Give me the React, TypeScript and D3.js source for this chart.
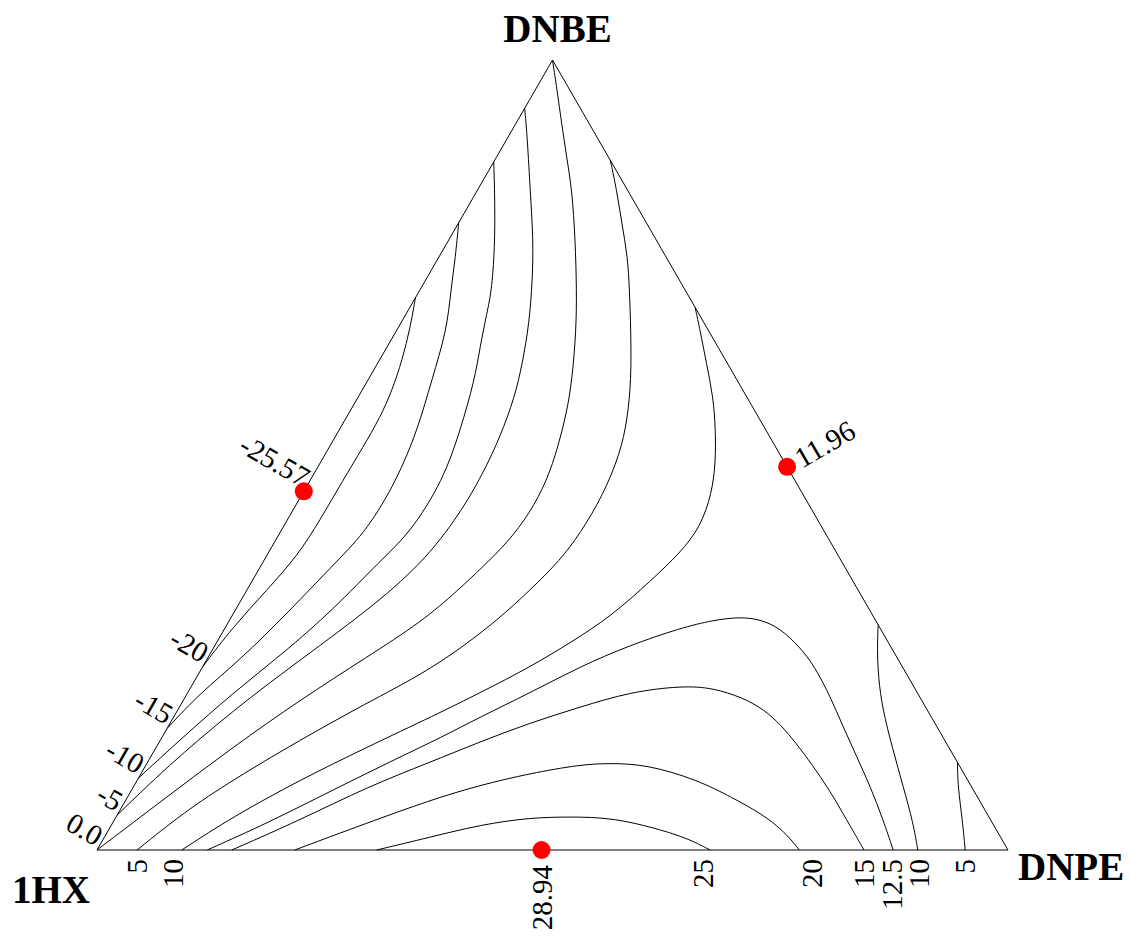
import React from 'react';
import * as d3 from 'd3';

// Ternary points: [DNPE fraction, DNBE fraction]; 1HX = 1 - both
type TP = [number, number];

const vertexNames = { left: '1HX', right: 'DNPE', top: 'DNBE' };

const cNeg20: TP[] = [[0, 0.699], [0.013, 0.662], [0.025, 0.62], [0.033, 0.582], [0.037, 0.548], [0.037, 0.51], [0.036, 0.468], [0.036, 0.418], [0.034, 0.373], [0.022, 0.329], [0.008, 0.282], [0, 0.232]];
const cNeg15: TP[] = [[0, 0.794], [0.018, 0.751], [0.034, 0.709], [0.055, 0.658], [0.07, 0.595], [0.086, 0.532], [0.095, 0.468], [0.094, 0.405], [0.081, 0.367], [0.059, 0.3], [0.037, 0.241], [0.014, 0.199], [0, 0.154]];
const cNeg10: TP[] = [[0, 0.871], [0.019, 0.835], [0.051, 0.772], [0.079, 0.709], [0.088, 0.68], [0.102, 0.637], [0.117, 0.595], [0.133, 0.532], [0.146, 0.468], [0.143, 0.401], [0.128, 0.367], [0.107, 0.304], [0.08, 0.249], [0.05, 0.199], [0.023, 0.143], [0, 0.091]];
const cNeg5: TP[] = [[0, 0.939], [0.023, 0.899], [0.058, 0.835], [0.093, 0.772], [0.117, 0.722], [0.141, 0.667], [0.159, 0.616], [0.172, 0.573], [0.181, 0.523], [0.185, 0.481], [0.186, 0.434], [0.178, 0.37], [0.15, 0.31], [0.103, 0.241], [0.061, 0.177], [0.024, 0.105], [0, 0.044]];
const cZero: TP[] = [[0, 1], [0.024, 0.962], [0.05, 0.92], [0.077, 0.877], [0.104, 0.835], [0.139, 0.772], [0.172, 0.709], [0.197, 0.658], [0.224, 0.595], [0.239, 0.553], [0.251, 0.51], [0.26, 0.468], [0.262, 0.427], [0.256, 0.389], [0.244, 0.358], [0.232, 0.329], [0.212, 0.289], [0.174, 0.244], [0.128, 0.19], [0.084, 0.13], [0.043, 0.067], [0, 0]];
const cPos5a: TP[] = [[0.127, 0.873], [0.153, 0.835], [0.179, 0.794], [0.207, 0.751], [0.23, 0.709], [0.257, 0.658], [0.289, 0.595], [0.31, 0.544], [0.323, 0.503], [0.331, 0.449], [0.33, 0.401], [0.325, 0.367], [0.311, 0.329], [0.294, 0.291], [0.272, 0.256], [0.245, 0.222], [0.203, 0.186], [0.153, 0.139], [0.105, 0.089], [0.071, 0.047], [0.044, 0]];
const cPos5b: TP[] = [[0.889, 0.111], [0.905, 0.08], [0.931, 0.038], [0.953, 0]];
const cPos10a: TP[] = [[0.313, 0.687], [0.333, 0.658], [0.361, 0.616], [0.39, 0.573], [0.413, 0.532], [0.434, 0.49], [0.449, 0.452], [0.458, 0.409], [0.452, 0.376], [0.438, 0.342], [0.416, 0.295], [0.388, 0.262], [0.36, 0.232], [0.321, 0.199], [0.286, 0.171], [0.231, 0.13], [0.179, 0.089], [0.128, 0.042], [0.093, 0]];
const cPos10b: TP[] = [[0.715, 0.285], [0.728, 0.257], [0.748, 0.219], [0.774, 0.177], [0.808, 0.13], [0.845, 0.08], [0.879, 0.034], [0.901, 0]];
const cPos12_5: TP[] = [[0.121, 0], [0.17, 0.034], [0.221, 0.076], [0.274, 0.118], [0.306, 0.142], [0.336, 0.168], [0.376, 0.199], [0.414, 0.232], [0.455, 0.259], [0.5, 0.281], [0.531, 0.291], [0.558, 0.295], [0.582, 0.292], [0.609, 0.281], [0.643, 0.257], [0.672, 0.232], [0.708, 0.194], [0.741, 0.156], [0.775, 0.118], [0.809, 0.08], [0.844, 0.038], [0.874, 0]];
const cPos15: TP[] = [[0.148, 0], [0.204, 0.038], [0.257, 0.08], [0.31, 0.111], [0.352, 0.137], [0.395, 0.161], [0.44, 0.181], [0.485, 0.2], [0.539, 0.208], [0.574, 0.205], [0.612, 0.193], [0.643, 0.178], [0.672, 0.158], [0.7, 0.135], [0.731, 0.108], [0.767, 0.075], [0.796, 0.046], [0.826, 0.016], [0.842, 0]];
const cPos20: TP[] = [[0.217, 0], [0.279, 0.034], [0.334, 0.063], [0.379, 0.082], [0.427, 0.097], [0.476, 0.108], [0.508, 0.11], [0.55, 0.108], [0.614, 0.089], [0.665, 0.066], [0.704, 0.047], [0.731, 0.031], [0.753, 0.015], [0.771, 0]];
const cPos25: TP[] = [[0.307, 0], [0.357, 0.016], [0.405, 0.032], [0.455, 0.041], [0.498, 0.042], [0.546, 0.041], [0.609, 0.025], [0.645, 0.013], [0.673, 0]];

const contourLines: TP[][] = [cNeg20, cNeg15, cNeg10, cNeg5, cZero, cPos5a, cPos5b, cPos10a, cPos10b, cPos12_5, cPos15, cPos20, cPos25];

// labels on the 1HX–DNBE edge (position = DNBE fraction)
const leftLabelText = ['0.0', '-5', '-10', '-15', '-20'];
const leftLabelPos = [0, 0.044, 0.091, 0.154, 0.232];

// labels on the 1HX–DNPE edge (position = DNPE fraction)
const bottomLabelText = ['5', '10', '25', '20', '15', '12.5', '10', '5'];
const bottomLabelPos = [0.044, 0.083, 0.665, 0.785, 0.842, 0.873, 0.902, 0.953];

// extrema
const extremaText = ['-25.57', '11.96', '28.94'];
const extremaPos: TP[] = [[0, 0.454], [0.515, 0.485], [0.488, 0]];
const extremaSide = ['left', 'right', 'bottom'];

const W = 1130;
const H = 937;
const FONT = "'Times New Roman', 'Liberation Serif', Times, serif";
const FS = 29;

export default function App() {
  const xs = d3.scaleLinear().domain([0, 1]).range([97, 1008]);
  const ys = d3.scaleLinear().domain([0, 1]).range([850, 60]);
  const proj = (p: TP): [number, number] => [xs(p[0] + p[1] / 2), ys(p[1])];
  const line = d3.line<TP>().x((p) => proj(p)[0]).y((p) => proj(p)[1]).curve(d3.curveBasis);
  const tri = d3.line<TP>().x((p) => proj(p)[0]).y((p) => proj(p)[1]);
  const corners: TP[] = [[0, 0], [1, 0], [0, 1], [0, 0]];

  const L = proj([0, 0]);
  const R = proj([1, 0]);
  const T = proj([0, 1]);

  return (
    <svg width={W} height={H} style={{ position: 'absolute', left: 0, top: 0, background: '#fff' }}>
      <rect x={0} y={0} width={W} height={H} fill="#fff" />
      {contourLines.map((c, i) => (
        <path key={i} d={line(c) || ''} fill="none" stroke="#000" strokeWidth={1} />
      ))}
      <path d={tri(corners) || ''} fill="none" stroke="#000" strokeWidth={1} />

      {leftLabelText.map((t, i) => {
        const [x, y] = proj([0, leftLabelPos[i]]);
        return (
          <text key={'l' + i} x={x} y={y} transform={`rotate(30 ${x} ${y})`} textAnchor="end" dx={-3} dy={-2} fontSize={FS} fontFamily={FONT}>
            {t}
          </text>
        );
      })}

      {bottomLabelText.map((t, i) => {
        const [x, y] = proj([bottomLabelPos[i], 0]);
        return (
          <text key={'b' + i} x={x} y={y} transform={`rotate(-90 ${x} ${y})`} textAnchor="end" dx={-9} dy={10} fontSize={FS} fontFamily={FONT}>
            {t}
          </text>
        );
      })}

      {extremaText.map((t, i) => {
        const [x, y] = proj(extremaPos[i]);
        const side = extremaSide[i];
        let label;
        if (side === 'left') {
          label = (
            <text x={x} y={y} transform={`rotate(30 ${x} ${y})`} textAnchor="end" dx={-3} dy={-2} fontSize={FS} fontFamily={FONT}>{t}</text>
          );
        } else if (side === 'right') {
          label = (
            <text x={x} y={y} transform={`rotate(-30 ${x} ${y})`} textAnchor="start" dx={12} dy={9} fontSize={FS} fontFamily={FONT}>{t}</text>
          );
        } else {
          label = (
            <text x={x} y={y} transform={`rotate(-90 ${x} ${y})`} textAnchor="end" dx={-15} dy={10} fontSize={FS} fontFamily={FONT}>{t}</text>
          );
        }
        return (
          <g key={'e' + i}>
            {label}
            <circle cx={x} cy={y} r={9} fill="#ff0000" />
          </g>
        );
      })}

      <text x={T[0] + 5} y={T[1] - 18} textAnchor="middle" fontSize={39} fontWeight="bold" fontFamily={FONT}>{vertexNames.top}</text>
      <text x={R[0] + 10} y={R[1] + 30} textAnchor="start" fontSize={39} fontWeight="bold" fontFamily={FONT}>{vertexNames.right}</text>
      <text x={L[0] - 85} y={L[1] + 53} textAnchor="start" fontSize={39} fontWeight="bold" fontFamily={FONT}>{vertexNames.left}</text>
    </svg>
  );
}
